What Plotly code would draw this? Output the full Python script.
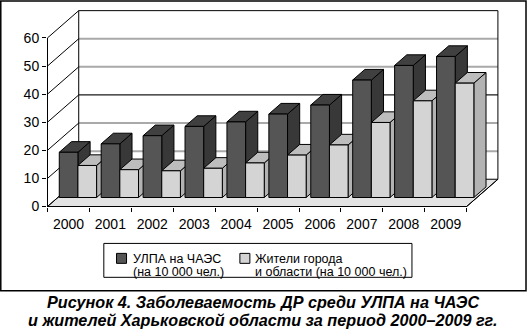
import plotly.graph_objects as go

# ---------------- data ----------------
years = ["2000", "2001", "2002", "2003", "2004", "2005", "2006", "2007", "2008", "2009"]
ulpa = [16.1, 19.1, 22.0, 25.3, 26.9, 29.7, 32.9, 41.8, 47.0, 50.2]
residents = [11.4, 9.9, 9.5, 10.4, 12.3, 15.1, 18.7, 26.7, 34.4, 40.7]
y_ticks = [0, 10, 20, 30, 40, 50, 60]
legend_lines = [["УЛПА на ЧАЭС", "(на 10 000 чел.)"],
                ["Жители города", "и области (на 10 000 чел.)"]]
caption_lines = ["Рисунок 4. Заболеваемость ДР среди УЛПА на ЧАЭС",
                 "и жителей Харьковской области за период 2000–2009 гг."]

# ---------------- styling / geometry ----------------
W_PX, H_PX = 527, 330
L, R, T, B = 47.2, 505.0, 8.0, 207.5       # plot area in px
X0, CW = 47.7, 41.9                          # px of category 0, px per category
Y0, VS = 207.0, 2.817                        # px of value 0, px per value unit
u_min, u_max = (L - X0) / CW, (R - X0) / CW
v_min, v_max = (Y0 - B) / VS, (Y0 - T) / VS

DU, DV = 0.745, 9.7        # depth offset of the floor in axis units
F0, FD = 0.33, 0.39        # bar front depth fraction and bar depth fraction
OFF, BW = 0.035, 0.445     # bar offset inside category and bar width
VMAX = 60
N = len(years)

colors = [
    dict(front="#555555", top="#404040", side="#383838"),
    dict(front="#d4d4d4", top="#bdbdbd", side="#b3b3b3"),
]
FONT = "Liberation Sans, Arial, sans-serif"


def px_to_paper_x(px):
    return (px - L) / (R - L)


def px_to_paper_y(py):
    return (B - py) / (B - T)


def path(pts):
    return "M" + " L".join(f"{x:.4f},{y:.4f}" for x, y in pts) + " Z"


shapes = []


def line(x0, y0, x1, y1, color="black", width=1):
    shapes.append(dict(type="line", xref="x", yref="y", x0=x0, y0=y0, x1=x1, y1=y1,
                       line=dict(color=color, width=width), layer="below"))


# floor
shapes.append(dict(type="path", xref="x", yref="y",
                   path=path([(0, 0), (N, 0), (N + DU, DV), (DU, DV)]),
                   fillcolor="#e3e3e3", line=dict(color="black", width=1), layer="below"))
# back wall grid lines
for v in y_ticks[1:-1]:
    if v == 30:
        line(DU, v + DV, N + DU, v + DV, color="#1a1a1a", width=1.2)
    else:
        line(DU, v + DV, N + DU, v + DV, color="#a9a9a9", width=2)
# back wall edges
line(DU, VMAX + DV, N + DU, VMAX + DV)
line(N + DU, DV, N + DU, VMAX + DV)
line(DU, DV, DU, VMAX + DV)
# left wall diagonals
for v in y_ticks:
    line(0, v, DU, v + DV)
# front axes
line(0, 0, 0, VMAX)
line(0, 0, N, 0)
line(N, 0, N + DU, DV)

series = [ulpa, residents]
side_shapes, top_shapes = [], []
traces = []
for k, vals in enumerate(series):
    xs = []
    for i, val in enumerate(vals):
        xl = i + OFF + k * BW + F0 * DU
        xr = xl + BW
        vb = F0 * DV
        vt = vb + val
        ddx, ddy = FD * DU, FD * DV
        xs.append(xl + BW / 2)
        side_shapes.append(dict(type="path", xref="x", yref="y",
                                path=path([(xr, vb), (xr, vt), (xr + ddx, vt + ddy), (xr + ddx, vb + ddy)]),
                                fillcolor=colors[k]["side"], line=dict(color="black", width=1), layer="below"))
        top_shapes.append(dict(type="path", xref="x", yref="y",
                               path=path([(xl, vt), (xr, vt), (xr + ddx, vt + ddy), (xl + ddx, vt + ddy)]),
                               fillcolor=colors[k]["top"], line=dict(color="black", width=1), layer="below"))
    traces.append(go.Bar(x=xs, y=vals, base=F0 * DV, width=BW,
                         name=" ".join(legend_lines[k]), showlegend=False,
                         marker=dict(color=colors[k]["front"], line=dict(color="black", width=1)),
                         hoverinfo="skip"))
shapes += side_shapes + top_shapes

# outer frame
shapes.append(dict(type="rect", xref="paper", yref="paper",
                   x0=px_to_paper_x(1), x1=px_to_paper_x(526),
                   y0=px_to_paper_y(291.5), y1=px_to_paper_y(1),
                   line=dict(color="black", width=1.5), fillcolor="rgba(0,0,0,0)", layer="below"))

# legend (box, swatches, text)
shapes.append(dict(type="rect", xref="paper", yref="paper",
                   x0=px_to_paper_x(104), x1=px_to_paper_x(412),
                   y0=px_to_paper_y(278), y1=px_to_paper_y(244),
                   line=dict(color="black", width=1), fillcolor="white", layer="above"))
legend_swatch_x = [116.7, 240.0]
legend_text_x = [131.5, 253.5]
annotations = []
for k in range(2):
    shapes.append(dict(type="rect", xref="paper", yref="paper",
                       x0=px_to_paper_x(legend_swatch_x[k]), x1=px_to_paper_x(legend_swatch_x[k] + 10),
                       y0=px_to_paper_y(264), y1=px_to_paper_y(254),
                       line=dict(color="black", width=1), fillcolor=colors[k]["front"], layer="above"))
    for j, txt in enumerate(legend_lines[k]):
        annotations.append(dict(text=txt, xref="paper", yref="paper",
                                x=px_to_paper_x(legend_text_x[k]), y=px_to_paper_y(259.5 + 12.7 * j),
                                xanchor="left", yanchor="middle", showarrow=False,
                                font=dict(family=FONT, size=12.5, color="black")))

for j, txt in enumerate(caption_lines):
    annotations.append(dict(text=f"<b><i>{txt}</i></b>", xref="paper", yref="paper",
                            x=px_to_paper_x(263.5), y=px_to_paper_y(303.2 + 17.6 * j),
                            xanchor="center", yanchor="middle", showarrow=False,
                            font=dict(family=FONT, size=16.2, color="black")))

fig = go.Figure(traces)
fig.update_layout(
    width=W_PX, height=H_PX,
    margin=dict(l=L, r=W_PX - R, t=T, b=H_PX - B, pad=0),
    paper_bgcolor="white", plot_bgcolor="white",
    barmode="overlay",
    shapes=shapes,
    annotations=annotations,
    font=dict(family=FONT, color="black"),
    showlegend=False,
    xaxis=dict(range=[u_min, u_max], tickmode="array",
               tickvals=[i + 0.5 for i in range(N)], ticktext=years,
               ticks="outside", ticklen=4, tickcolor="rgba(0,0,0,0)",
               minor=dict(tickmode="array", tickvals=list(range(N + 1)), ticks="outside",
                          ticklen=4, tickcolor="black", tickwidth=1, showgrid=False),
               showgrid=False, zeroline=False, showline=False, automargin=False,
               tickfont=dict(family=FONT, size=14, color="black"), fixedrange=True),
    yaxis=dict(range=[v_min, v_max], tickmode="array", tickvals=y_ticks,
               ticks="outside", ticklen=4, tickcolor="black", tickwidth=1,
               showgrid=False, zeroline=False, showline=False, automargin=False,
               tickfont=dict(family=FONT, size=14, color="black"), fixedrange=True),
)

fig.write_html("out.html")
